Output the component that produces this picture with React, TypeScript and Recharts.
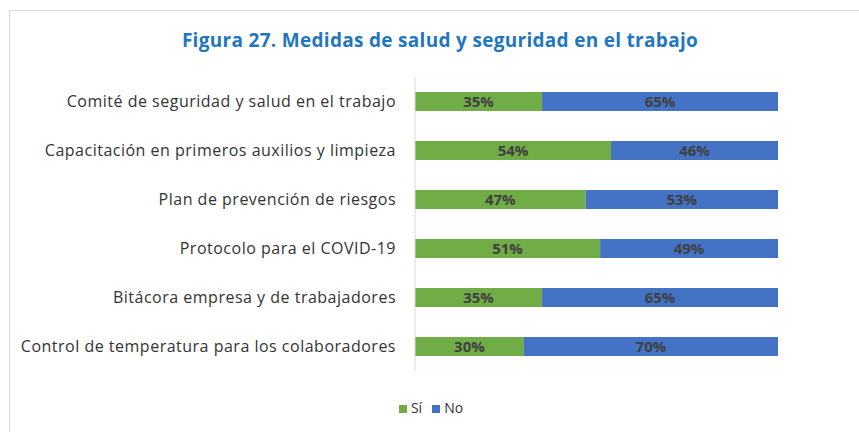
import React from 'react';
import { BarChart, Bar, XAxis, YAxis, Legend, LabelList } from 'recharts';

const categories = [
  'Comité de seguridad y salud en el trabajo',
  'Capacitación en primeros auxilios y limpieza',
  'Plan de prevención de riesgos',
  'Protocolo para el COVID-19',
  'Bitácora empresa y de trabajadores',
  'Control de temperatura para los colaboradores',
];
const siValues = [35, 54, 47, 51, 35, 30];
const noValues = [65, 46, 53, 49, 65, 70];

const data = categories.map((name, i) => ({ name, si: siValues[i], no: noValues[i] }));

const FONT = '"Open Sans", "Liberation Sans", sans-serif';

const pct = (v: any) => `${v}%`;

const App: React.FC = () => {
  return (
    <div style={{ position: 'absolute', left: 0, top: 0, width: 859, height: 432, overflow: 'hidden', background: '#fff', fontFamily: FONT }}>
      <div style={{ position: 'absolute', left: 9, top: 10, width: 900, height: 500, border: '1px solid #d9d9d9' }} />
      <div
        style={{
          position: 'absolute',
          left: 0,
          top: 27,
          width: 880,
          textAlign: 'center',
          color: '#1f77c0',
          fontWeight: 700,
          fontSize: 19,
          letterSpacing: 0.3,
        }}
      >
        Figura 27. Medidas de salud y seguridad en el trabajo
      </div>
      <div style={{ position: 'absolute', left: 0, top: 0 }}>
        <BarChart
          width={859}
          height={432}
          data={data}
          layout="vertical"
          barCategoryGap={15}
          margin={{ top: 77, right: 81, left: 10, bottom: 61 }}
        >
          <XAxis type="number" domain={[0, 100]} hide />
          <YAxis
            type="category"
            dataKey="name"
            width={405}
            tickLine={false}
            tickSize={0}
            tickMargin={19}
            axisLine={{ stroke: '#d9d9d9' }}
            tick={{ fill: '#333333', fontSize: 16, letterSpacing: 0.5, fontFamily: FONT }}
            interval={0}
          />
          <Legend
            layout="horizontal"
            verticalAlign="middle"
            align="center"
            iconType="square"
            iconSize={8}
            itemSorter={(item: any) => (item.dataKey === 'si' ? 0 : 1)}
            wrapperStyle={{ top: 398, left: 0, width: 872, fontSize: 14, fontFamily: FONT }}
            formatter={(value: any) => <span style={{ color: '#333333' }}>{value}</span>}
          />
          <Bar dataKey="si" name="Sí" stackId="a" fill="#70ad47" isAnimationActive={false}>
            <LabelList dataKey="si" position="center" formatter={pct} fill="#404040" fontWeight={700} fontSize={15} fontFamily={FONT} />
          </Bar>
          <Bar dataKey="no" name="No" stackId="a" fill="#4472c4" isAnimationActive={false}>
            <LabelList dataKey="no" position="center" formatter={pct} fill="#404040" fontWeight={700} fontSize={15} fontFamily={FONT} />
          </Bar>
        </BarChart>
      </div>
    </div>
  );
};

export default App;
